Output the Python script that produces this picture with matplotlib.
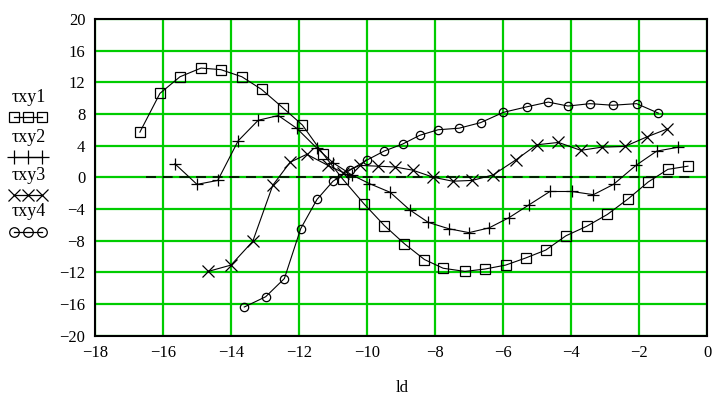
import numpy as np
import matplotlib.pyplot as plt
from matplotlib.lines import Line2D

# txy1 - squares
x1 = [-16.68, -16.09, -15.5, -14.88, -14.3, -13.68, -13.1, -12.48, -11.9, -11.3,
      -10.72, -10.08, -9.49, -8.9, -8.31, -7.76, -7.12, -6.53, -5.92, -5.33,
      -4.74, -4.15, -3.54, -2.93, -2.31, -1.73, -1.15, -0.56]
y1 = [5.7, 10.6, 12.7, 13.8, 13.6, 12.7, 11.1, 8.8, 6.6, 3.0,
      -0.2, -3.4, -6.1, -8.4, -10.4, -11.5, -11.9, -11.6, -11.1, -10.2,
      -9.2, -7.4, -6.2, -4.7, -2.7, -0.6, 1.0, 1.4]

# txy2 - plus
x2 = [-15.65, -15.0, -14.39, -13.79, -13.2, -12.61, -12.07, -11.48, -10.99, -10.45,
      -9.93, -9.32, -8.75, -8.2, -7.6, -7.0, -6.41, -5.82, -5.24, -4.62,
      -3.98, -3.34, -2.75, -2.09, -1.48, -0.84]
y2 = [1.7, -0.9, -0.4, 4.6, 7.2, 7.8, 6.2, 3.7, 1.8, 0.3,
      -0.8, -1.9, -4.1, -5.7, -6.5, -7.0, -6.4, -5.1, -3.5, -1.8,
      -1.8, -2.2, -0.9, 1.5, 3.3, 3.8]

# txy3 - x
x3 = [-14.67, -14.0, -13.36, -12.77, -12.26, -11.77, -11.15, -10.7, -10.21, -9.69,
      -9.18, -8.66, -8.05, -7.48, -6.9, -6.29, -5.62, -5.01, -4.37, -3.71,
      -3.1, -2.41, -1.77, -1.17]
y3 = [-11.9, -11.1, -8.1, -1.0, 1.9, 2.9, 1.5, 0.6, 1.5, 1.4,
      1.3, 0.9, 0.0, -0.5, -0.4, 0.3, 2.2, 4.1, 4.4, 3.4,
      3.8, 3.9, 5.1, 6.1]

# txy4 - circles
x4 = [-13.61, -12.98, -12.43, -11.95, -11.47, -11.0, -10.5, -9.99, -9.5, -8.95,
      -8.45, -7.91, -7.29, -6.66, -5.99, -5.3, -4.67, -4.09, -3.44, -2.77,
      -2.07, -1.43]
y4 = [-16.4, -15.1, -12.8, -6.5, -2.8, -0.5, 0.9, 2.2, 3.3, 4.2,
      5.3, 6.0, 6.2, 6.9, 8.2, 8.9, 9.5, 9.0, 9.3, 9.1,
      9.3, 8.1]

# zero line
x0 = [-16.5, -0.5]
y0 = [0, 0]

labels = ['\u03c4xy1', '\u03c4xy2', '\u03c4xy3', '\u03c4xy4']
markers = ['s', '+', 'x', 'o']
msizes = [6.5, 9, 8, 6]

plt.rcParams['font.family'] = ['Liberation Serif', 'DejaVu Serif']
plt.rcParams['axes.unicode_minus'] = True

fig = plt.figure(figsize=(7.13, 3.96), dpi=100)
ax = fig.add_axes([95 / 713, 1 - 335.5 / 396, 612 / 713, 316.5 / 396])

ax.plot(x0, y0, color='black', lw=1.2, dashes=(6, 4))
for xs, ys, m, ms in zip([x1, x2, x3, x4], [y1, y2, y3, y4], markers, msizes):
    ax.plot(xs, ys, color='black', lw=0.8, marker=m, ms=ms,
            mfc='none', mec='black', mew=0.9)

ax.set_xlim(-18, 0)
ax.set_ylim(-20, 20)
ax.set_xticks(np.arange(-18, 1, 2))
ax.set_yticks(np.arange(-20, 21, 4))
ax.grid(True, color='#00cc00', lw=1.6)
ax.set_axisbelow(True)
ax.tick_params(length=0, labelsize=12, pad=7)
for s in ax.spines.values():
    s.set_linewidth(1.5)
    s.set_color('black')

fig.text(402 / 713, 1 - 388 / 396, 'ld', ha='center', va='center', fontsize=12)

# legend drawn at the left side
text_y = [98, 137, 175, 212]
mark_y = [117, 157, 195, 232]
for lab, m, ms, ty, my in zip(labels, markers, msizes, text_y, mark_y):
    fig.text(29 / 713, 1 - ty / 396, lab, ha='center', va='center', fontsize=13)
    fig.add_artist(Line2D([14 / 713, 28 / 713, 42 / 713], [1 - my / 396] * 3,
                          transform=fig.transFigure, color='black', lw=0.9,
                          marker=m, ms=ms * 1.15, mfc='none', mec='black', mew=0.9))

fig.savefig('out.png', dpi=100)
